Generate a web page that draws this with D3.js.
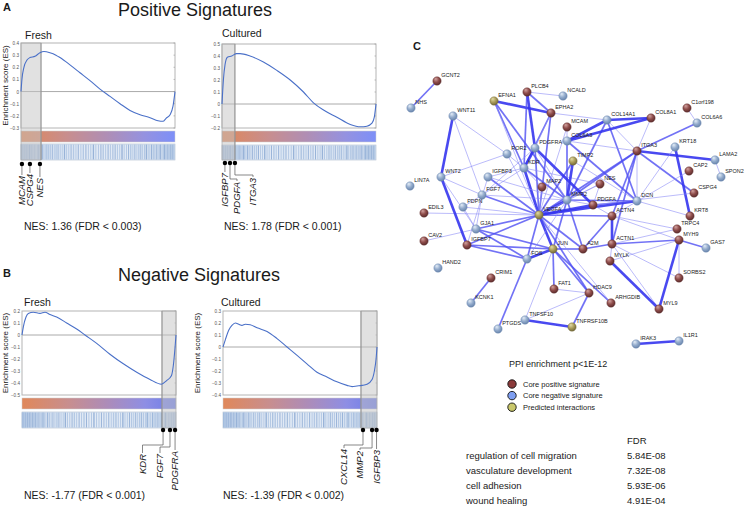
<!DOCTYPE html>
<html><head><meta charset="utf-8">
<script src="https://cdn.jsdelivr.net/npm/d3@7"></script>
<style>body{margin:0;background:#fff}svg{display:block;font-family:"Liberation Sans",Arial,Helvetica,sans-serif}</style>
</head><body><svg id="c" width="745" height="507"></svg>
<script>
// ---------------- DATA ----------------
const panelTitles = ["Fresh", "Cultured", "Fresh", "Cultured"];
const sectionTitles = ["Positive Signatures", "Negative Signatures"];
const nesTexts = ["NES: 1.36 (FDR < 0.003)", "NES: 1.78 (FDR < 0.001)", "NES: -1.77 (FDR < 0.001)", "NES: -1.39 (FDR < 0.002)"];

// running enrichment score: rank fraction / ES
const rankAF = [0,.006,.019,.039,.058,.091,.123,.149,.188,.227,.253,.318,.383,.448,.513,.578,.643,.708,.773,.838,.890,.922,.942,.968,.987,1];
const esAF   = [0,.10,.20,.26,.28,.29,.32,.33,.32,.30,.28,.22,.155,.09,.02,-.04,-.10,-.155,-.19,-.215,-.24,-.245,-.22,-.19,-.12,0];
const rankAC = [0,.009,.020,.035,.063,.095,.117,.182,.269,.356,.443,.529,.594,.659,.746,.833,.898,.941,.974,.989,1];
const esAC   = [0,.20,.33,.39,.40,.42,.42,.40,.35,.28,.20,.10,.01,-.05,-.11,-.17,-.19,-.185,-.16,-.11,0];
const rankBF = [0,.009,.026,.041,.074,.117,.149,.182,.225,.290,.355,.409,.485,.571,.658,.745,.831,.905,.939,.970,.983,.994,1];
const esBF   = [0,.07,.15,.18,.19,.18,.19,.17,.15,.10,.05,0,-.07,-.16,-.24,-.31,-.37,-.41,-.38,-.34,-.25,-.10,0];
const rankBC = [0,.015,.037,.058,.080,.102,.123,.145,.177,.221,.286,.351,.416,.481,.545,.610,.675,.740,.805,.838,.870,.903,.935,.968,.983,.994,1];
const esBC   = [0,.06,.14,.18,.20,.19,.18,.19,.185,.16,.13,.07,0,-.07,-.14,-.21,-.25,-.29,-.32,-.33,-.325,-.32,-.31,-.27,-.20,-.10,0];

const ticksAF = [0.4,0.3,0.2,0.1,0,-0.1,-0.2,-0.3];
const ticksAC = [0.5,0.4,0.3,0.2,0.1,0,-0.1,-0.2];
const ticksBF = [0.2,0.1,0,-0.1,-0.2,-0.3,-0.4,-0.5];
const ticksBC = [0.3,0.2,0.1,0,-0.1,-0.2,-0.3,-0.4];

const leadingEdge = [[0,0.13],[0,0.084],[0.909,1],[0.896,1]];

const genesAF = ["MCAM","CSPG4","NES"];      const geneRankAF = [0.006,0.058,0.123];
const genesAC = ["IGFBP7","PDGFA","ITGA3"];  const geneRankAC = [0.019,0.052,0.084];
const genesBF = ["KDR","FGF7","PDGFRA"];     const geneRankBF = [0.916,0.961,0.994];
const genesBC = ["CXCL14","MMP2","IGFBP3"];  const geneRankBC = [0.909,0.968,0.997];

// gene-set hit positions (rank per mille)
const hitsAF = [0,4,8,11,15,19,24,28,33,37,42,47,53,58,64,69,75,82,88,95,103,110,118,127,135,146,155,166,178,189,201,214,226,239,253,266,281,295,309,324,340,356,371,388,404,421,437,453,470,486,503,519,534,550,566,581,597,612,627,642,657,671,686,700,714,728,741,754,767,780,792,804,816,828,839,850,861,871,881,891,900,909,918,926,934,942,949,956,963,969,975,980,985,990,994,998];
const hitsAC = [1,3,7,10,14,18,22,26,31,36,40,45,51,57,62,68,74,81,87,94,101,109,117,126,136,144,153,163,174,186,197,209,222,235,249,262,276,291,305,320,336,351,367,383,399,415,432,449,465,481,498,514,530,546,561,577,592,608,623,638,653,667,682,696,710,724,737,751,763,776,789,801,813,825,836,847,858,868,878,888,898,907,916,925,933,941,948,955,962,968,974,979,984,989,993,997];
const hitsBF = [0,3,6,10,13,17,21,25,30,34,39,44,49,55,60,66,72,79,86,93,100,108,116,125,134,143,153,164,175,187,199,212,225,238,252,266,280,294,309,324,339,354,370,386,402,418,434,451,467,484,500,516,532,548,564,580,595,611,626,641,656,670,685,699,713,727,740,753,766,779,791,803,815,827,838,849,860,870,880,890,899,908,917,926,934,942,950,957,964,970,976,982,987,991,995,999];
const hitsBC = [2,5,9,12,16,20,23,27,32,35,41,46,50,56,61,67,73,80,85,92,99,107,115,124,133,142,152,162,173,185,198,210,224,237,250,264,279,293,307,322,338,353,369,385,400,417,433,450,466,483,499,515,531,547,563,579,594,610,625,640,655,669,684,698,712,726,739,752,765,778,790,802,814,826,837,848,859,869,879,889,898,907,916,925,933,941,949,956,963,969,975,981,986,990,994,998];

// network (layout coordinates)
const nodeNames = ["NHS","GCNT2","EFNA1","PLCB4","NCALD","EPHA2","MCAM","COL14A1","COL6A3","COL8A1","C1orf198","COL6A6","WNT11","ROR2","PDGFRA","TIMP2","ITGA3","KRT18","LAMA2","SPON2","CAP2","CSPG4","KRT8","KDR","MAP2","NES","MMP2","PDGFA","DCN","VEGFA","LIN7A","WNT2","IGFBP3","FGF7","PDPN","EDIL3","GJA1","CAV2","IGFBP7","ACTN4","ACTN1","TRPC4","MYH9","GAS7","A2M","JUN","FOS","MYLK","HAND2","CRIM1","SORBS2","FAT1","HDAC9","KCNK1","ARHGDIB","MYL9","TNFSF10","TNFRSF10B","PTGDS","IRAK3","IL1R1"];
const nodeX = [11,37,94,127,163,151,167,207,167,251,287,297,53,107,135,173,237,275,315,321,289,294,290,124,142,200,167,193,237,139,10,41,88,82,63,24,76,24,67,212,212,277,279,306,183,153,127,210,38,91,279,154,189,71,211,259,125,172,98,236,279];
const nodeY = [68,41,61,52,56,73,87,80,101,78,68,83,76,114,108,121,111,107,120,137,131,153,176,128,147,144,160,165,161,175,146,137,137,155,167,173,189,201,205,176,204,189,200,208,209,209,219,221,228,238,238,249,253,263,263,269,280,287,289,304,301];
const nodeType = ["neg","pos","pred","pos","neg","pos","pos","neg","neg","pos","pos","neg","neg","neg","neg","pred","pos","neg","neg","neg","pos","pos","pos","neg","pos","pos","neg","pos","neg","pred","neg","neg","neg","neg","neg","pos","neg","pos","pos","pos","pos","pos","pos","neg","pos","pred","neg","pos","neg","pos","pos","pos","pos","neg","pos","pos","neg","pred","neg","neg","neg"];
const edgeList = [
["GCNT2","NHS",2],["EFNA1","EPHA2",3],["EFNA1","KDR",2],["EFNA1","MMP2",2],["EFNA1","VEGFA",1],
["PLCB4","NCALD",1],["PLCB4","PDGFRA",3],["PLCB4","KDR",2],["PLCB4","EPHA2",2],
["EPHA2","KDR",2],["EPHA2","VEGFA",2],["EPHA2","COL14A1",1],["EPHA2","PDGFRA",1],
["WNT11","WNT2",3],["WNT11","ROR2",1],["WNT11","FGF7",1],["MCAM","VEGFA",1],["MCAM","COL6A3",1],
["COL14A1","COL8A1",3],["COL14A1","COL6A3",3],["COL14A1","MMP2",2],["COL14A1","ITGA3",1],["COL14A1","DCN",2],
["COL6A3","COL8A1",3],["COL6A3","MMP2",2],["COL6A3","DCN",2],["COL6A3","ITGA3",1],["COL8A1","ITGA3",1],
["C1orf198","COL6A6",1],["COL6A6","ITGA3",2],["ITGA3","LAMA2",3],["ITGA3","CSPG4",2],["ITGA3","MMP2",2],
["ITGA3","VEGFA",2],["ITGA3","ACTN4",2],["ITGA3","ACTN1",2],["ITGA3","DCN",1],["KRT18","KRT8",3],["KRT18","DCN",1],
["LAMA2","SPON2",1],["DCN","VEGFA",3],["DCN","PDGFA",2],["DCN","MMP2",2],["DCN","KRT8",1],["CSPG4","PDGFA",1],
["CAP2","ACTN4",1],["ACTN4","ACTN1",3],["ACTN4","TRPC4",1],["ACTN4","MYH9",1],["ACTN4","A2M",2],["ACTN4","PDGFA",1],
["ACTN4","VEGFA",2],["ACTN1","MYH9",2],["ACTN1","TRPC4",1],["ACTN1","A2M",2],["ACTN1","MYLK",1],["ACTN1","SORBS2",1],
["ACTN1","MYL9",1],["MYH9","GAS7",2],["MYH9","MYL9",3],["MYH9","MYLK",1],["MYLK","MYL9",3],["A2M","MMP2",2],
["A2M","VEGFA",2],["A2M","JUN",2],["JUN","FOS",3],["JUN","VEGFA",3],["JUN","MMP2",2],["JUN","GJA1",2],["JUN","IGFBP7",2],
["JUN","HDAC9",2],["JUN","FAT1",2],["JUN","ARHGDIB",2],["HDAC9","TNFRSF10B",2],["HDAC9","TNFSF10",1],["HDAC9","FAT1",1],
["HDAC9","VEGFA",2],["TNFSF10","TNFRSF10B",3],["TNFSF10","JUN",1],["PTGDS","FOS",2],["KCNK1","CRIM1",2],["IRAK3","IL1R1",3],
["FOS","VEGFA",2],["FOS","IGFBP7",2],["FOS","GJA1",2],["FOS","MMP2",1],["VEGFA","KDR",3],["VEGFA","PDGFRA",2],
["VEGFA","MMP2",3],["VEGFA","FGF7",2],["VEGFA","IGFBP3",2],["VEGFA","IGFBP7",2],["VEGFA","GJA1",2],["VEGFA","PDGFA",3],
["VEGFA","NES",1],["VEGFA","MAP2",1],["VEGFA","TIMP2",2],["VEGFA","PDPN",1],["VEGFA","ROR2",1],["VEGFA","EDIL3",1],
["KDR","PDGFRA",3],["KDR","MMP2",2],["KDR","IGFBP3",1],["KDR","FGF7",1],["KDR","ROR2",1],["KDR","NES",1],["KDR","MAP2",1],
["PDGFRA","PDGFA",3],["PDGFRA","MMP2",1],["PDGFRA","FGF7",1],["MMP2","TIMP2",3],["MMP2","IGFBP3",1],["MMP2","FGF7",1],
["MMP2","PDGFA",1],["MMP2","NES",1],["TIMP2","DCN",1],["GJA1","PDPN",1],["GJA1","FGF7",1],["GJA1","CAV2",1],["GJA1","WNT2",1],
["WNT2","IGFBP7",3],["WNT2","ROR2",1],["WNT2","FGF7",1],["IGFBP3","IGFBP7",1],["FGF7","PDPN",1],["NES","PDGFA",1],
["ARHGDIB","VEGFA",1],["SORBS2","MYH9",1]
];
const legendTitle = "PPI enrichment p<1E-12";
const legendLabels = ["Core positive signature","Core negative signature","Predicted interactions"];
const goTerms = ["regulation of cell migration","vasculature development","cell adhesion","wound healing"];
const goFDR = ["5.84E-08","7.32E-08","5.93E-06","4.91E-04"];

// ---------------- DRAW ----------------
const svg = d3.select("#c");
const defs = svg.append("defs");
const TXT = "#1a1a1a";

function linGrad(id, stops){
  const g = defs.append("linearGradient").attr("id", id).attr("x1","0%").attr("x2","100%");
  stops.forEach(s => g.append("stop").attr("offset", s[0]).attr("stop-color", s[1]));
}
linGrad("gA", [["0%","#df875a"],["30%","#c88e8e"],["55%","#b08eb4"],["80%","#9592e0"],["100%","#7d8ff8"]]);
linGrad("gB", [["0%","#e0885a"],["30%","#c88e8e"],["55%","#ad8cb8"],["80%","#8e8ee4"],["100%","#6c7ce8"]]);

svg.append("text").attr("x",3).attr("y",11).attr("font-size",11).attr("font-weight","bold").attr("fill",TXT).text("A");
svg.append("text").attr("x",3).attr("y",277).attr("font-size",11).attr("font-weight","bold").attr("fill",TXT).text("B");
svg.append("text").attr("x",413).attr("y",50).attr("font-size",11).attr("font-weight","bold").attr("fill",TXT).text("C");
svg.append("text").attr("x",118).attr("y",16).attr("font-size",18).attr("fill",TXT).text(sectionTitles[0]);
svg.append("text").attr("x",118).attr("y",281).attr("font-size",18).attr("fill",TXT).text(sectionTitles[1]);

const panelData = [
 {rank:rankAF, es:esAF, ticks:ticksAF, genes:genesAF, gr:geneRankAF, hits:hitsAF, grad:"gA"},
 {rank:rankAC, es:esAC, ticks:ticksAC, genes:genesAC, gr:geneRankAC, hits:hitsAC, grad:"gA"},
 {rank:rankBF, es:esBF, ticks:ticksBF, genes:genesBF, gr:geneRankBF, hits:hitsBF, grad:"gB"},
 {rank:rankBC, es:esBC, ticks:ticksBC, genes:genesBC, gr:geneRankBC, hits:hitsBC, grad:"gB"}
];
const layout = [
 {x0:21, x1:175, y0:43, y1:128, gy0:131, gy1:142, by0:144, by1:160, dotY:164, tx:25, ty:39, ylab:8, nx:24, ny:230, lx:[21.5,30,40.5], ky:[null,null,null], lt:[176,174,178]},
 {x0:222, x1:376, y0:44, y1:128, gy0:131, gy1:142, by0:145, by1:160, dotY:163, tx:222, ty:37, ylab:null, nx:224, ny:230, lx:[224.5,237,253], ky:[null,179,175], lt:[173,182,178]},
 {x0:22, x1:176, y0:311, y1:395, gy0:398, gy1:409, by0:412, by1:428, dotY:430, tx:24, ty:306, ylab:8, nx:24, ny:499, lx:[142.5,160,176.5], ky:[445,447,null], lt:[454,454,451]},
 {x0:223, x1:377, y0:311, y1:395, gy0:398, gy1:409, by0:412, by1:428, dotY:430, tx:221, ty:306, ylab:200, nx:223, ny:499, lx:[344,360,378], ky:[445,448,null], lt:[449,451,450]}
];

panelData.forEach((d, i) => {
  const L = layout[i];
  const g = svg.append("g");
  const x = d3.scaleLinear().domain([0,1]).range([L.x0, L.x1]);
  const y = d3.scaleLinear().domain(d3.extent(d.ticks)).range([L.y1, L.y0]);
  const hx = d3.scaleLinear().domain([0,1000]).range([L.x0+0.5, L.x1-0.5]);

  g.append("rect").attr("x",L.x0).attr("y",L.y0).attr("width",L.x1-L.x0).attr("height",L.y1-L.y0)
    .attr("fill","#fff").attr("stroke","#b4b4b4").attr("stroke-width",1);
  g.append("line").attr("x1",L.x0).attr("x2",L.x1).attr("y1",y(0)).attr("y2",y(0)).attr("stroke","#aaa").attr("stroke-width",1);
  const ax = d3.axisLeft(y).tickValues(d.ticks).tickSize(0).tickPadding(2)
     .tickFormat(v => v === 0 ? "0" : d3.format(".1f")(v));
  const axg = g.append("g").attr("transform",`translate(${L.x0},0)`).call(ax);
  axg.select(".domain").remove();
  axg.selectAll("text").attr("font-size",4.6).attr("fill","#555").attr("font-family","Liberation Sans, Arial, sans-serif");
  g.selectAll(".rt").data(d.ticks).join("line").attr("x1",L.x1-1.5).attr("x2",L.x1).attr("y1",v=>y(v)).attr("y2",v=>y(v)).attr("stroke","#999").attr("stroke-width",0.6);

  g.append("rect").attr("x",L.x0).attr("y",L.gy0).attr("width",L.x1-L.x0).attr("height",L.gy1-L.gy0)
    .attr("fill",`url(#${d.grad})`).attr("stroke","#d0d0d0").attr("stroke-width",0.5);
  g.append("rect").attr("x",L.x0).attr("y",L.by0).attr("width",L.x1-L.x0).attr("height",L.by1-L.by0)
    .attr("fill","#e2eaf5").attr("stroke","#b0bccc").attr("stroke-width",0.6);
  g.selectAll(".hit").data(d.hits).join("line")
    .attr("x1",v=>hx(v)).attr("x2",v=>hx(v)).attr("y1",L.by0+0.5).attr("y2",L.by1-0.5)
    .attr("stroke",(v,k)=> k%3===0 ? "#98b3d8" : "#b3c8e4").attr("stroke-width",(v,k)=> k%4===0 ? 1.4 : 1);

  const le = leadingEdge[i];
  g.append("rect").attr("x",x(le[0])).attr("y",L.y0).attr("width",x(le[1])-x(le[0])).attr("height",L.by1-L.y0)
    .attr("fill","#c4c4c4").attr("fill-opacity",0.5);
  const edgeX = le[0] === 0 ? x(le[1]) : x(le[0]);
  g.append("line").attr("x1",edgeX).attr("x2",edgeX).attr("y1",L.y0).attr("y2",L.by1).attr("stroke","#8a8a8a").attr("stroke-width",0.9);
  g.append("rect").attr("x",x(le[0])).attr("y",L.y0).attr("width",x(le[1])-x(le[0])).attr("height",L.by1-L.y0)
    .attr("fill","none").attr("stroke","#a0a0a0").attr("stroke-width",0.6);

  const pts = d.rank.map((r,k)=>[r, d.es[k]]);
  g.append("path").datum(pts).attr("fill","none").attr("stroke","#4a70c8").attr("stroke-width",1.1)
    .attr("d", d3.line().x(p=>x(p[0])).y(p=>y(p[1])).curve(d3.curveMonotoneX));

  g.append("text").attr("x",L.tx).attr("y",L.ty).attr("font-size",10.5).attr("fill",TXT).text(panelTitles[i]);
  if (L.ylab !== null) {
    g.append("text").attr("transform",`translate(${L.ylab},${(L.y0+L.y1)/2}) rotate(-90)`)
      .attr("text-anchor","middle").attr("font-size",8).attr("fill",TXT).text("Enrichment score (ES)");
  }
  d.genes.forEach((name, k) => {
    const dx = x(d.gr[k]);
    const path = d3.path();
    path.moveTo(dx, L.dotY);
    if (L.ky[k] !== null) { path.lineTo(dx, L.ky[k]); path.lineTo(L.lx[k], L.ky[k]); path.lineTo(L.lx[k], L.lt[k]-1); }
    else { path.lineTo(dx, L.lt[k]-1); }
    g.append("path").attr("d", path.toString()).attr("fill","none").attr("stroke","#555").attr("stroke-width",0.7);
    g.append("circle").attr("cx",dx).attr("cy",L.dotY).attr("r",2.2).attr("fill","#000");
    const tx = L.ky[k] !== null ? L.lx[k] : dx;
    g.append("text").attr("transform",`translate(${tx+3.3},${L.lt[k]}) rotate(-90)`)
      .attr("text-anchor","end").attr("font-size",9.5).attr("font-style","italic").attr("fill",TXT).text(name);
  });
  g.append("text").attr("x",L.nx).attr("y",L.ny).attr("font-size",10.5).attr("fill",TXT).text(nesTexts[i]);
});

// ---------------- NETWORK ----------------
const nx = d3.scaleLinear().domain([0,345]).range([400,745]);
const ny = d3.scaleLinear().domain([0,330]).range([40,370]);
const nodes = nodeNames.map((n,i)=>({name:n, x:nodeX[i], y:nodeY[i], type:nodeType[i]}));
const byName = new Map(nodes.map(n=>[n.name,n]));
const edgeStyle = {
  1:{c:"#8a8af6", w:0.9, o:0.65},
  2:{c:"#4f4ff2", w:1.7, o:0.8},
  3:{c:"#3535ee", w:2.6, o:0.9}
};
const net = svg.append("g");
net.selectAll(".edge").data(edgeList).join("line")
  .attr("x1",e=>nx(byName.get(e[0]).x)).attr("y1",e=>ny(byName.get(e[0]).y))
  .attr("x2",e=>nx(byName.get(e[1]).x)).attr("y2",e=>ny(byName.get(e[1]).y))
  .attr("stroke",e=>edgeStyle[e[2]].c).attr("stroke-width",e=>edgeStyle[e[2]].w).attr("stroke-opacity",e=>edgeStyle[e[2]].o);

const nodeColors = {
  pos:["#d3a3a0","#8e4c4a","#5e2e2e"],
  neg:["#e4edf7","#93abcc","#6a86ad"],
  pred:["#e2dba6","#aa9c5a","#746a3a"]
};
Object.entries(nodeColors).forEach(([k,c])=>{
  const rg = defs.append("radialGradient").attr("id","n_"+k).attr("cx","40%").attr("cy","35%").attr("r","65%").attr("fx","35%").attr("fy","25%");
  rg.append("stop").attr("offset","0%").attr("stop-color",c[0]);
  rg.append("stop").attr("offset","55%").attr("stop-color",c[1]);
  rg.append("stop").attr("offset","100%").attr("stop-color",c[2]);
});
net.selectAll(".node").data(nodes).join("circle")
  .attr("cx",n=>nx(n.x)).attr("cy",n=>ny(n.y)).attr("r",4.2)
  .attr("fill",n=>`url(#n_${n.type})`).attr("stroke",n=>nodeColors[n.type][2]).attr("stroke-width",0.4);
net.selectAll(".nlab").data(nodes).join("text")
  .attr("x",n=>nx(n.x)+4.2).attr("y",n=>ny(n.y)-4).attr("font-size",5.5).attr("fill","#222").text(n=>n.name);

// legend
svg.append("text").attr("x",509).attr("y",367).attr("font-size",9).attr("fill",TXT).text(legendTitle);
const legCols = ["#8b3b3b","#7e9ef0","#c9c76a"];
legendLabels.forEach((t,i)=>{
  const yy = 384 + i*11.6;
  svg.append("circle").attr("cx",512).attr("cy",yy).attr("r",4.2).attr("fill",legCols[i]).attr("stroke","#111").attr("stroke-width",0.9);
  svg.append("text").attr("x",523).attr("y",yy+2.7).attr("font-size",7.5).attr("fill",TXT).text(t);
});

// GO table
svg.append("text").attr("x",627).attr("y",443.5).attr("font-size",9.5).attr("fill",TXT).text("FDR");
goTerms.forEach((t,i)=>{
  const yy = 458.5 + i*15;
  svg.append("text").attr("x",466).attr("y",yy).attr("font-size",9.5).attr("fill",TXT).text(t);
  svg.append("text").attr("x",627).attr("y",yy).attr("font-size",9.5).attr("fill",TXT).text(goFDR[i]);
});
</script></body></html>
